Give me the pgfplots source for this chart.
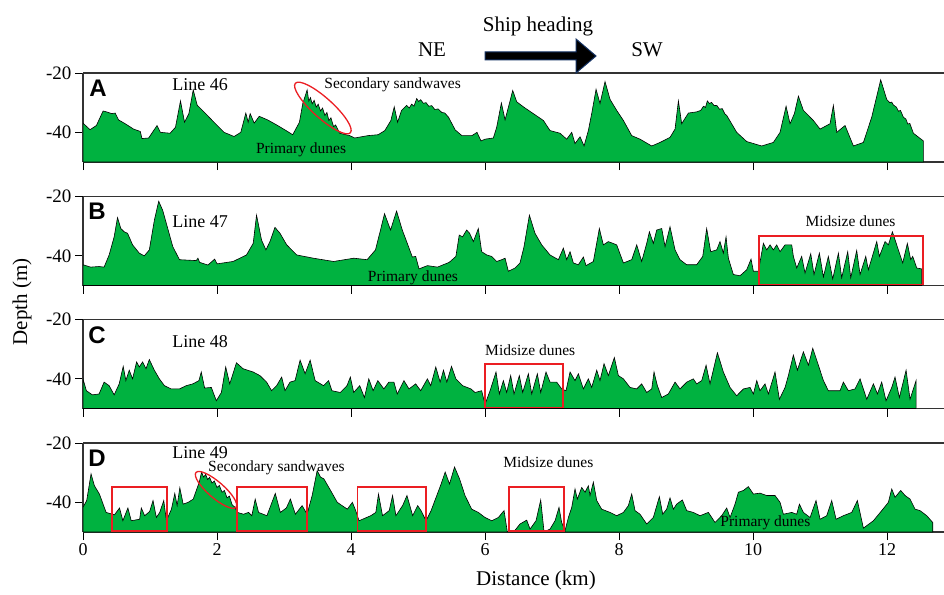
\documentclass[border=0pt]{standalone}
\usepackage{fontspec}
\setmainfont{Liberation Serif}
\newfontfamily\sansbf{Liberation Sans}
\usepackage{pgfplots}
\pgfplotsset{compat=1.18}
\usetikzlibrary{shapes.geometric}
\definecolor{dunegreen}{RGB}{0,178,64}
\definecolor{boxred}{RGB}{235,30,35}
\definecolor{arrowblue}{RGB}{20,50,100}
\newcommand\fs[1]{\fontsize{#1}{#1}\selectfont}
\pgfplotsset{panel/.style={
  scale only axis, width=861pt, height=89pt,
  xmin=0, xmax=12.85, ymin=-50, ymax=-20,
  axis x line*=bottom, axis y line*=left,
  axis line style={-, black!80, line width=1.2pt},
  xtick={0,2,4,6,8,10,12}, ytick={-40,-20}, yticklabels={-40,-20},
  xtick align=outside, ytick align=outside, major tick length=8pt,
  tick style={black, line width=0.8pt},
  /pgf/number format/assume math mode=true,
  yticklabel style={font=\rmfamily\fs{19}},
  xticklabel style={font=\rmfamily\fs{18}},
  xticklabels={},
  clip mode=individual,
  anchor=south west,
}}
\tikzset{dune/.style={fill=dunegreen, draw=black, line width=0.6pt, mark=none},
lbl/.style={font=\fs{18}, anchor=west, inner sep=0pt},
note/.style={font=\fs{15.5}, anchor=west, inner sep=0pt},
letter/.style={font=\sansbf\bfseries\fs{24}, inner sep=0pt},
rbox/.style={boxred, line width=1.5pt}}
\begin{document}
\begin{tikzpicture}
\path[use as bounding box] (0,0) rectangle (944pt,-594pt);
% ---------- Panel A
\begin{axis}[panel, at={(83pt,-162pt)}]
\addplot[dune] coordinates {(0,-50) (0,-36.9) (0.105,-39.1) (0.2,-37.7) (0.3,-32.8) (0.35,-33.1) (0.43,-33.7) (0.48,-33.5) (0.53,-35.8) (0.63,-37.1) (0.755,-38.9) (0.855,-39.7) (0.88,-42.1) (0.98,-41.9) (1.105,-37.7) (1.155,-40) (1.3,-40.3) (1.38,-38.3) (1.455,-29.4) (1.515,-36.6) (1.58,-33.7) (1.645,-25.7) (1.705,-30.9) (1.805,-33.1) (1.955,-36.6) (2.105,-40) (2.255,-41.4) (2.355,-40) (2.43,-33.5) (2.465,-36.6) (2.495,-33.7) (2.555,-36.9) (2.63,-34.6) (2.755,-35.8) (2.905,-37.7) (3.03,-39.4) (3.13,-40.8) (3.23,-36.6) (3.28,-30.3) (3.345,-25.7) (3.37,-29.5) (3.395,-28.3) (3.42,-30.4) (3.45,-29.2) (3.48,-31.5) (3.51,-30.5) (3.545,-32.8) (3.575,-31.8) (3.61,-34.3) (3.64,-33.3) (3.67,-36.0) (3.70,-35.1) (3.74,-38.1) (3.77,-37.5) (3.83,-40.3) (3.98,-41.1) (4.055,-41.9) (4.255,-41.1) (4.405,-40.8) (4.505,-39.4) (4.595,-36) (4.645,-31.4) (4.695,-36.6) (4.755,-32.6) (4.83,-30.9) (4.87,-31.8) (4.905,-30.5) (4.94,-31.2) (4.98,-28.6) (5.01,-29.6) (5.04,-29.0) (5.08,-30.2) (5.12,-30.0) (5.16,-31.2) (5.205,-31.0) (5.25,-32.3) (5.30,-32.1) (5.355,-33.3) (5.40,-33.5) (5.455,-34.9) (5.555,-39.2) (5.655,-41.1) (5.805,-41.1) (5.88,-40) (5.94,-42.9) (6.0,-42.3) (6.124,-41.9) (6.174,-38.3) (6.244,-30.1) (6.299,-35.8) (6.363,-30.3) (6.413,-25.9) (6.473,-29.7) (6.572,-31.4) (6.721,-33.7) (6.871,-36) (6.97,-39.4) (7.119,-40.3) (7.219,-42.3) (7.294,-40) (7.343,-43.8) (7.418,-41.5) (7.478,-44.6) (7.542,-39.4) (7.592,-33.7) (7.657,-25.5) (7.716,-30.3) (7.791,-22.9) (7.866,-28.9) (7.965,-32.6) (8.065,-36) (8.189,-41.1) (8.313,-42.3) (8.488,-44.6) (8.612,-43.4) (8.761,-41.7) (8.836,-38.9) (8.886,-29.4) (8.935,-37.1) (9.035,-33.5) (9.159,-33.1) (9.22,-32.6) (9.26,-31.2) (9.29,-31.6) (9.318,-29.4) (9.35,-30.3) (9.38,-29.9) (9.42,-31.0) (9.458,-30.9) (9.50,-32.2) (9.54,-32.0) (9.58,-33.8) (9.607,-34.3) (9.756,-40) (9.905,-43.1) (10.129,-44.6) (10.303,-43.4) (10.403,-40) (10.493,-31.2) (10.552,-37.1) (10.617,-33.7) (10.677,-27.8) (10.751,-32.6) (10.9,-36) (11.0,-38.9) (11.149,-37.1) (11.199,-30.9) (11.249,-40) (11.373,-37.7) (11.498,-44.6) (11.647,-43.4) (11.771,-34.9) (11.905,-22.3) (11.995,-28.9) (12.04,-30.0) (12.07,-29.8) (12.095,-30.8) (12.14,-31.5) (12.17,-32.9) (12.2,-32.6) (12.244,-34.9) (12.28,-35.5) (12.31,-37.2) (12.34,-37.0) (12.393,-40.3) (12.542,-42.9) (12.542,-50)} -- cycle;
\draw[black!80, line width=1.2pt] (rel axis cs:0,1) -- (rel axis cs:1,1);
\node[letter] at (axis cs:0.224,-25.1) {A};
\node[lbl] at (axis cs:1.33,-24.05) {Line 46};
\node[note] at (axis cs:3.6,-24.05) {Secondary sandwaves};
\node[note] at (axis cs:2.58,-45.96) {Primary dunes};
\node[draw=boxred, line width=1.3pt, ellipse, minimum width=74pt, minimum height=20pt, inner sep=0pt, rotate=-42] at (axis cs:3.58,-31.8) {};
\end{axis}
% ---------- Panel B
\begin{axis}[panel, at={(83pt,-285.5pt)}]
\addplot[dune] coordinates {(0,-50) (0,-43) (0.115,-43.8) (0.24,-43.6) (0.315,-43.8) (0.39,-39.7) (0.465,-33.6) (0.515,-27.1) (0.565,-30.8) (0.615,-31.9) (0.665,-32.4) (0.74,-36.3) (0.84,-39.1) (0.915,-40) (0.99,-38) (1.065,-28) (1.13,-21.6) (1.19,-24.7) (1.265,-30.8) (1.34,-36.9) (1.44,-41.3) (1.69,-41.6) (1.715,-40.8) (1.74,-42.2) (1.865,-43.1) (1.965,-41.1) (2.0,-42.7) (2.24,-41.9) (2.44,-39.7) (2.54,-35.8) (2.59,-26.3) (2.665,-34.7) (2.73,-38) (2.79,-35.2) (2.865,-30.4) (2.94,-32.4) (3.04,-36.3) (3.19,-39.7) (3.44,-40.8) (3.74,-41.9) (4.04,-40.8) (4.24,-41.3) (4.365,-38) (4.44,-31.3) (4.5,-25.8) (4.59,-31.3) (4.68,-24.9) (4.765,-31.3) (4.84,-35.8) (4.915,-40.4) (4.965,-40.2) (5.015,-44.4) (5.14,-43.3) (5.29,-43.8) (5.465,-42.2) (5.565,-40.2) (5.615,-33) (5.665,-33.6) (5.726,-31.3) (5.77,-32.4) (5.826,-35.2) (5.9,-30.8) (5.95,-38.6) (6.025,-39.7) (6.1,-40.2) (6.174,-41.9) (6.249,-41.3) (6.299,-40.8) (6.348,-45.2) (6.448,-44.1) (6.522,-42.4) (6.582,-36.9) (6.662,-26.3) (6.746,-32.4) (6.846,-36.3) (6.97,-39.7) (7.095,-41.3) (7.169,-37.4) (7.219,-41.3) (7.269,-38.6) (7.318,-42.4) (7.393,-43) (7.468,-40.4) (7.507,-43.3) (7.617,-41.9) (7.706,-30.8) (7.766,-36.3) (7.841,-35.2) (7.965,-36.3) (8.065,-42.4) (8.189,-41.3) (8.264,-36.3) (8.338,-41.9) (8.413,-35.8) (8.453,-31.9) (8.512,-35.8) (8.562,-31.3) (8.637,-30.8) (8.687,-36.9) (8.761,-30.2) (8.836,-38) (8.91,-41.3) (9.01,-43) (9.159,-43) (9.249,-40.2) (9.308,-30.8) (9.368,-38.6) (9.458,-38) (9.507,-35.2) (9.557,-39.1) (9.597,-33.6) (9.632,-40.8) (9.706,-46.3) (9.806,-46.7) (9.905,-44.7) (9.97,-41.1) (10.005,-45.2) (10.08,-45.2) (10.154,-35.8) (10.204,-38) (10.254,-36.3) (10.303,-38) (10.353,-36.3) (10.403,-38.6) (10.478,-36.3) (10.577,-36.3) (10.602,-40.2) (10.652,-44.1) (10.726,-40.2) (10.776,-45.8) (10.861,-39.3) (10.91,-46.3) (10.99,-39.1) (11.05,-47.1) (11.124,-40.2) (11.189,-47.8) (11.274,-39.1) (11.323,-47.4) (11.413,-38.6) (11.458,-47.4) (11.547,-38.2) (11.597,-46.3) (11.682,-40.2) (11.721,-44.7) (11.846,-35.2) (11.886,-40.2) (11.97,-35.2) (12.02,-36.3) (12.08,-31.9) (12.169,-38) (12.234,-42.4) (12.303,-35.8) (12.353,-41.3) (12.383,-40.2) (12.443,-44.1) (12.517,-44.4) (12.517,-50)} -- cycle;
\draw[black!80, line width=1.2pt] (rel axis cs:0,1) -- (rel axis cs:1,1);
\node[letter] at (axis cs:0.21,-24.9) {B};
\node[lbl] at (axis cs:1.33,-28.6) {Line 47};
\node[note] at (axis cs:4.25,-47.5) {Primary dunes};
\node[note] at (axis cs:10.78,-28.3) {Midsize dunes};
\draw[rbox] (axis cs:10.09,-33.3) rectangle (axis cs:12.54,-49.6);
\end{axis}
% ---------- Panel C
\begin{axis}[panel, at={(83pt,-408.5pt)}]
\addplot[dune] coordinates {(0,-50) (0,-40) (0.05,-44) (0.14,-45.4) (0.24,-45.1) (0.315,-41.1) (0.39,-42.3) (0.465,-45.4) (0.54,-41.7) (0.6,-35.8) (0.64,-40.6) (0.69,-37.1) (0.74,-40) (0.8,-34.3) (0.84,-36) (0.89,-34.3) (0.94,-36.6) (0.99,-33.5) (1.065,-37.1) (1.14,-40) (1.215,-42.3) (1.315,-43.4) (1.44,-43.4) (1.54,-42.3) (1.64,-41.7) (1.73,-40.6) (1.765,-37.7) (1.815,-43.1) (1.915,-42.9) (1.99,-47.4) (2.065,-44.6) (2.13,-36) (2.19,-41.7) (2.29,-34.6) (2.39,-36.6) (2.54,-37.7) (2.64,-38.9) (2.74,-41.1) (2.815,-44) (2.89,-42.3) (2.965,-39.4) (3.015,-44) (3.09,-41.1) (3.165,-40.6) (3.24,-33.7) (3.315,-38.3) (3.39,-33.7) (3.465,-40.6) (3.59,-42.3) (3.665,-40.6) (3.715,-44) (3.84,-44.6) (3.94,-42.3) (3.99,-39.4) (4.04,-44.6) (4.13,-42.3) (4.2,-46.3) (4.265,-40) (4.33,-44) (4.4,-40.6) (4.49,-43.4) (4.565,-41.1) (4.64,-41.1) (4.69,-45.1) (4.79,-40.6) (4.865,-43.4) (4.965,-41.7) (5.04,-44) (5.14,-40) (5.19,-42.3) (5.265,-36) (5.33,-41.1) (5.38,-37.1) (5.43,-41.1) (5.5,-35.8) (5.565,-40) (5.665,-42.3) (5.79,-43.4) (5.851,-44.6) (5.95,-44) (6.0,-48.6) (6.075,-44) (6.164,-37.7) (6.214,-45.1) (6.274,-40.6) (6.323,-44.6) (6.383,-38.9) (6.433,-45.1) (6.512,-38.9) (6.562,-44.6) (6.647,-38.3) (6.697,-45.1) (6.781,-38.3) (6.831,-44.6) (6.91,-37.7) (6.97,-41.1) (7.07,-41.1) (7.144,-43.4) (7.209,-44) (7.269,-37.7) (7.343,-40.6) (7.393,-38.3) (7.468,-43.4) (7.542,-40) (7.592,-42.9) (7.667,-37.1) (7.716,-40.6) (7.776,-34.9) (7.841,-38.9) (7.93,-32.8) (7.99,-38.9) (8.065,-40) (8.164,-42.9) (8.264,-43.4) (8.338,-41.7) (8.413,-44.6) (8.488,-43.4) (8.522,-37.7) (8.572,-42.3) (8.637,-46.3) (8.736,-45.1) (8.836,-41.1) (8.91,-43.4) (9.01,-41.1) (9.109,-40) (9.159,-41.7) (9.234,-40.6) (9.299,-35.4) (9.358,-41.7) (9.468,-31.2) (9.557,-37.7) (9.657,-42.9) (9.756,-45.7) (9.856,-43.4) (9.955,-42.9) (10.005,-45.1) (10.055,-40.6) (10.104,-44) (10.179,-41.7) (10.229,-45.1) (10.328,-37.7) (10.393,-46.9) (10.478,-42.9) (10.527,-38.9) (10.602,-32) (10.662,-37.1) (10.751,-30.9) (10.826,-35.4) (10.891,-29.7) (10.975,-35.4) (11.05,-40.6) (11.124,-44) (11.298,-44) (11.348,-41.1) (11.423,-44) (11.522,-43.4) (11.597,-40) (11.697,-46.9) (11.796,-41.7) (11.856,-45.1) (11.92,-41.1) (11.985,-47.4) (12.07,-42.9) (12.119,-39.4) (12.184,-46.3) (12.284,-37.1) (12.343,-46.9) (12.433,-40.6) (12.433,-50)} -- cycle;
\draw[black!80, line width=1.2pt] (rel axis cs:0,1) -- (rel axis cs:1,1);
\node[letter] at (axis cs:0.21,-25.2) {C};
\node[lbl] at (axis cs:1.33,-27.6) {Line 48};
\node[note] at (axis cs:6.0,-30.3) {Midsize dunes};
\draw[rbox] (axis cs:6.0,-35.0) rectangle (axis cs:7.16,-49.6);
\end{axis}
% ---------- Panel D
\begin{axis}[panel, at={(83pt,-532pt)}, xticklabels={0,2,4,6,8,10,12}]
\addplot[dune] coordinates {(0,-50) (0,-41.7) (0.055,-39.4) (0.12,-30.4) (0.17,-34.4) (0.245,-37.2) (0.345,-43.4) (0.47,-44.2) (0.545,-41.9) (0.595,-46.2) (0.67,-41.9) (0.72,-46.2) (0.845,-45.7) (0.87,-41.9) (0.92,-44.5) (0.995,-43.1) (1.045,-39.4) (1.095,-45.1) (1.145,-43.4) (1.205,-39.4) (1.245,-46.2) (1.32,-42.3) (1.37,-37) (1.405,-41.1) (1.445,-35.1) (1.495,-40.6) (1.57,-40) (1.645,-38.9) (1.735,-33.2) (1.77,-29.8) (1.80,-31.5) (1.83,-30.6) (1.86,-32.3) (1.89,-31.6) (1.925,-33.5) (1.96,-32.8) (2.0,-35.0) (2.035,-34.3) (2.075,-36.6) (2.11,-36.0) (2.15,-38.5) (2.185,-37.9) (2.225,-40.8) (2.26,-41.5) (2.305,-43.4) (2.395,-44) (2.47,-43.4) (2.52,-44.5) (2.57,-38.9) (2.62,-43.4) (2.745,-44.5) (2.87,-37) (2.945,-43.4) (3.035,-41.9) (3.095,-38.9) (3.17,-44) (3.27,-41.1) (3.345,-44) (3.42,-37.7) (3.495,-29.3) (3.545,-31.5) (3.595,-32.1) (3.695,-36) (3.795,-40) (3.945,-42.3) (4.02,-40) (4.07,-42.8) (4.12,-46.2) (4.295,-44.5) (4.37,-43.4) (4.41,-37.2) (4.47,-44.5) (4.57,-42.8) (4.62,-37.7) (4.67,-44.5) (4.77,-41.1) (4.835,-37.7) (4.92,-44.5) (4.995,-41.1) (5.045,-42.8) (5.12,-46.2) (5.195,-42.8) (5.27,-38.3) (5.345,-33.8) (5.405,-29.8) (5.47,-33.8) (5.545,-28.1) (5.62,-32.1) (5.701,-37.7) (5.801,-42.3) (5.9,-43.4) (6.0,-45.1) (6.1,-46.2) (6.199,-45.1) (6.284,-42.8) (6.333,-50) (6.448,-49.4) (6.522,-47.3) (6.622,-46) (6.672,-49) (6.761,-46.2) (6.831,-39.2) (6.881,-50) (6.97,-49) (7.045,-46.2) (7.104,-41.7) (7.144,-46.8) (7.194,-49.6) (7.244,-45.1) (7.294,-41.7) (7.343,-35.5) (7.378,-38.9) (7.443,-35) (7.493,-36.6) (7.542,-34.4) (7.567,-37.7) (7.617,-33.2) (7.667,-39.4) (7.741,-42.3) (7.866,-43.4) (7.965,-44.5) (8.065,-43.4) (8.139,-41.1) (8.189,-37.2) (8.239,-42.8) (8.313,-44) (8.413,-47.3) (8.512,-45.1) (8.602,-38.1) (8.652,-44) (8.711,-42.3) (8.761,-38.5) (8.811,-42.3) (8.86,-40.6) (8.945,-39.2) (9.01,-42.8) (9.109,-43.4) (9.209,-44.5) (9.333,-43.4) (9.433,-46.8) (9.532,-44.5) (9.607,-41.9) (9.657,-45.1) (9.731,-40.6) (9.781,-36.6) (9.856,-36) (9.93,-34.7) (10.005,-37.2) (10.104,-36.9) (10.204,-37.7) (10.328,-37.7) (10.403,-40) (10.453,-44) (10.577,-43.4) (10.652,-44) (10.692,-40.6) (10.751,-43.4) (10.851,-45.1) (10.94,-39.4) (11.0,-45.7) (11.1,-44.5) (11.174,-39.4) (11.239,-45.7) (11.348,-44.5) (11.473,-43.4) (11.557,-39.4) (11.647,-48.7) (11.796,-46.2) (11.92,-42.8) (12.02,-40) (12.07,-35.5) (12.119,-38.3) (12.204,-36) (12.269,-37.7) (12.343,-38.9) (12.418,-42.3) (12.493,-42.8) (12.592,-44.5) (12.682,-46.8) (12.682,-50)} -- cycle;
\draw[black!80, line width=1.2pt] (rel axis cs:0,1) -- (rel axis cs:1,1);
\node[letter] at (axis cs:0.21,-25.1) {D};
\node[lbl] at (axis cs:1.33,-23.2) {Line 49};
\node[note] at (axis cs:1.866,-28.3) {Secondary sandwaves};
\node[draw=boxred, line width=1.3pt, ellipse, minimum width=53pt, minimum height=16pt, inner sep=0pt, rotate=-41] at (axis cs:1.985,-35.8) {};
\draw[rbox] (axis cs:0.43,-34.8) rectangle (axis cs:1.25,-49.6);
\draw[rbox] (axis cs:2.3,-34.8) rectangle (axis cs:3.34,-49.6);
\draw[rbox] (axis cs:4.1,-34.8) rectangle (axis cs:5.12,-49.6);
\draw[rbox] (axis cs:6.36,-34.8) rectangle (axis cs:7.18,-49.6);
\node[note] at (axis cs:6.27,-26.5) {Midsize dunes};
\node[note] at (axis cs:9.51,-47.0) {Primary dunes};
\end{axis}
% ---------- header, axis titles
\node[font=\fs{21}] at (538pt,-26pt) {Ship heading};
\node[font=\fs{21}] at (432pt,-50pt) {NE};
\node[font=\fs{21}] at (647pt,-50pt) {SW};
\filldraw[fill=black, draw=arrowblue, line width=1pt] (485pt,-52pt) -- (576pt,-52pt) -- (576pt,-39pt) -- (596pt,-56pt) -- (576pt,-73pt) -- (576pt,-60pt) -- (485pt,-60pt) -- cycle;
\node[font=\fs{21}, rotate=90] at (22pt,-302pt) {Depth (m)};
\node[font=\fs{21}] at (536pt,-580pt) {Distance (km)};
\end{tikzpicture}
\end{document}
